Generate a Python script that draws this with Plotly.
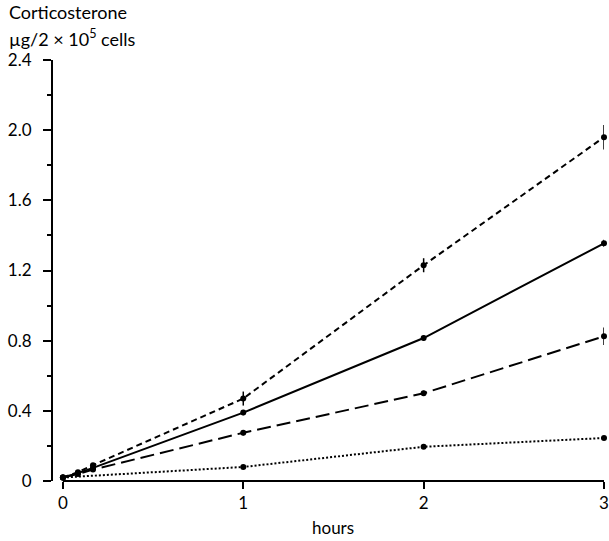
import plotly.graph_objects as go

# Time points (hours) and corticosterone output (µg / 2 x 10^5 cells)
hours = [0, 0.0833, 0.1667, 1, 2, 3]
hours_low = [0, 1, 2, 3]

high_dose = [0.02, 0.05, 0.09, 0.47, 1.23, 1.96]
high_err = [0, 0, 0, 0.04, 0.04, 0.07]

mid_dose = [0.02, 0.045, 0.075, 0.39, 0.815, 1.355]
mid_err = [0, 0, 0, 0.015, 0.015, 0.02]

low_dose = [0.02, 0.04, 0.065, 0.275, 0.50, 0.825]
low_err = [0, 0, 0, 0.015, 0.015, 0.05]

basal = [0.02, 0.08, 0.195, 0.245]

y_ticks = [0, 0.4, 0.8, 1.2, 1.6, 2.0, 2.4]
y_labels = ["0", "0.4", "0.8", "1.2", "1.6", "2.0", "2.4"]
x_ticks = [0, 1, 2, 3]

FONT = "Lato"
INK = "black"

# plot area in pixels: left 53, right 609, top 60, bottom 481
PW, PH = 556, 421

fig = go.Figure()


def add_series(x, y, err, dash):
    err_cfg = None
    if err is not None:
        err_cfg = dict(type="data", array=err, visible=True,
                       color=INK, thickness=1.5, width=0)
    fig.add_trace(go.Scatter(
        x=x, y=y, mode="lines+markers",
        line=dict(color=INK, width=2, dash=dash),
        marker=dict(color=INK, size=6),
        error_y=err_cfg,
        showlegend=False,
        cliponaxis=False,
    ))


add_series(hours, high_dose, high_err, "6px,4px")
add_series(hours, mid_dose, mid_err, "solid")
add_series(hours, low_dose, low_err, "14px,6px")
add_series(hours_low, basal, None, "2px,2px")

# x axis baseline starts at t = 0, detached from the y axis
fig.add_shape(type="line", xref="x", yref="paper", x0=0, x1=3, y0=0, y1=0,
              line=dict(color=INK, width=2))

fig.update_layout(
    width=609, height=541,
    margin=dict(l=53, r=0, t=60, b=60),
    paper_bgcolor="white", plot_bgcolor="white",
    font=dict(family=FONT, size=16, color=INK),
    xaxis=dict(
        range=[-0.055, 3.0], showgrid=False, zeroline=False, showline=False,
        tickmode="array", tickvals=x_ticks, ticktext=[str(t) for t in x_ticks],
        ticks="outside", ticklen=7, tickwidth=1.5, tickcolor=INK,
        ticklabeloverflow="allow",
        tickfont=dict(family=FONT, size=17),
    ),
    yaxis=dict(
        range=[0, 2.4], showgrid=False, zeroline=False,
        showline=True, linecolor=INK, linewidth=2,
        tickmode="array", tickvals=y_ticks, ticktext=y_labels,
        ticks="outside", ticklen=8, tickwidth=1.5, tickcolor=INK,
        ticklabelstandoff=8,
        tickfont=dict(family=FONT, size=17),
        minor=dict(dtick=0.2, tick0=0, ticks="outside", ticklen=4,
                   tickwidth=1.5, tickcolor=INK, showgrid=False),
    ),
    annotations=[
        dict(text="Corticosterone", xref="paper", yref="paper",
             x=-46 / PW, y=1 + (60 - 12) / PH, xanchor="left", yanchor="middle",
             showarrow=False, font=dict(family=FONT, size=18)),
        dict(text="µg/2 × 10<sup>5</sup> cells", xref="paper", yref="paper",
             x=-46 / PW, y=1 + (60 - 38) / PH, xanchor="left", yanchor="middle",
             showarrow=False, font=dict(family=FONT, size=18)),
        dict(text="hours", xref="paper", yref="paper",
             x=(336 - 53) / PW, y=-(527 - 481) / PH, xanchor="center",
             yanchor="middle", showarrow=False, font=dict(family=FONT, size=17)),
    ],
)

fig.write_html("out.html")
